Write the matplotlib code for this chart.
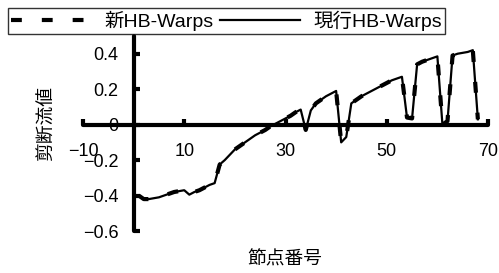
import matplotlib
matplotlib.use('Agg')
import matplotlib.pyplot as plt

plt.rcParams['font.family'] = ['Liberation Sans', 'Noto Sans CJK JP', 'DejaVu Sans']

# node numbers and shear flow values
nodes = list(range(1, 69))
new_hb = [-0.40, -0.42, -0.42, -0.415, -0.41, -0.40, -0.39, -0.38, -0.375, -0.37,
          -0.395, -0.38, -0.37, -0.355, -0.34, -0.33, -0.225, -0.20, -0.17, -0.14,
          -0.12, -0.10, -0.08, -0.06, -0.045, -0.03, -0.01, 0.005, 0.02, 0.035,
          0.05, 0.07, 0.085, -0.03, 0.08, 0.12, 0.14, 0.16, 0.175, 0.19,
          -0.10, -0.07, 0.12, 0.14, 0.16, 0.175, 0.19, 0.205, 0.22, 0.235,
          0.25, 0.26, 0.27, 0.04, 0.035, 0.34, 0.355, 0.365, 0.375, 0.385,
          0.0, 0.02, 0.39, 0.40, 0.405, 0.41, 0.42, 0.03]
cur_hb = list(new_hb)

xticks = [-10, 10, 30, 50, 70]
xticklabels = ['\u221210', '10', '30', '50', '70']
yticks = [-0.6, -0.4, -0.2, 0, 0.2, 0.4]
yticklabels = ['\u22120.6', '\u22120.4', '\u22120.2', '0', '0.2', '0.4']

fig = plt.figure(figsize=(4.99, 2.73), dpi=100)
ax = fig.add_axes([83/499, 1-231/273, 405/499, 195/273])

ln1, = ax.plot(nodes, new_hb, color='black', lw=3, dashes=(2.6, 4.8), solid_capstyle='butt')
ln2, = ax.plot(nodes, cur_hb, color='black', lw=1.6)

ax.set_xlim(-10, 70)
ax.set_ylim(-0.6, 0.5)
ax.spines['left'].set_position(('data', 0))
ax.spines['bottom'].set_position(('data', 0))
ax.spines['top'].set_visible(False)
ax.spines['right'].set_visible(False)
for s in ['left', 'bottom']:
    ax.spines[s].set_linewidth(3)
    ax.spines[s].set_capstyle('round')

ax.set_xticks(xticks)
ax.set_xticklabels(xticklabels)
ax.set_yticks(yticks)
ax.set_yticklabels(yticklabels)
ax.tick_params(axis='both', direction='in', length=4.5, width=3, labelsize=13)
ax.tick_params(axis='x', pad=13)
ax.tick_params(axis='y', pad=11)

fig.text(285/499, 1-260/273, '節点番号', ha='center', va='center', fontsize=13.5)
fig.text(47/499, 1-124/273, '剪断流値', ha='center', va='center', rotation=90, fontsize=13.5)

leg = fig.legend([ln1, ln2], ['新HB-Warps', '現行HB-Warps'], loc='upper left',
                 bbox_to_anchor=(8/499, 1-8/273), ncol=2, fontsize=14,
                 frameon=True, fancybox=False, edgecolor='black', borderaxespad=0,
                 handlelength=4.1, handletextpad=0.7, columnspacing=0.35,
                 borderpad=0.15)
leg.get_frame().set_linewidth(1)

fig.savefig('out.png', dpi=100)
